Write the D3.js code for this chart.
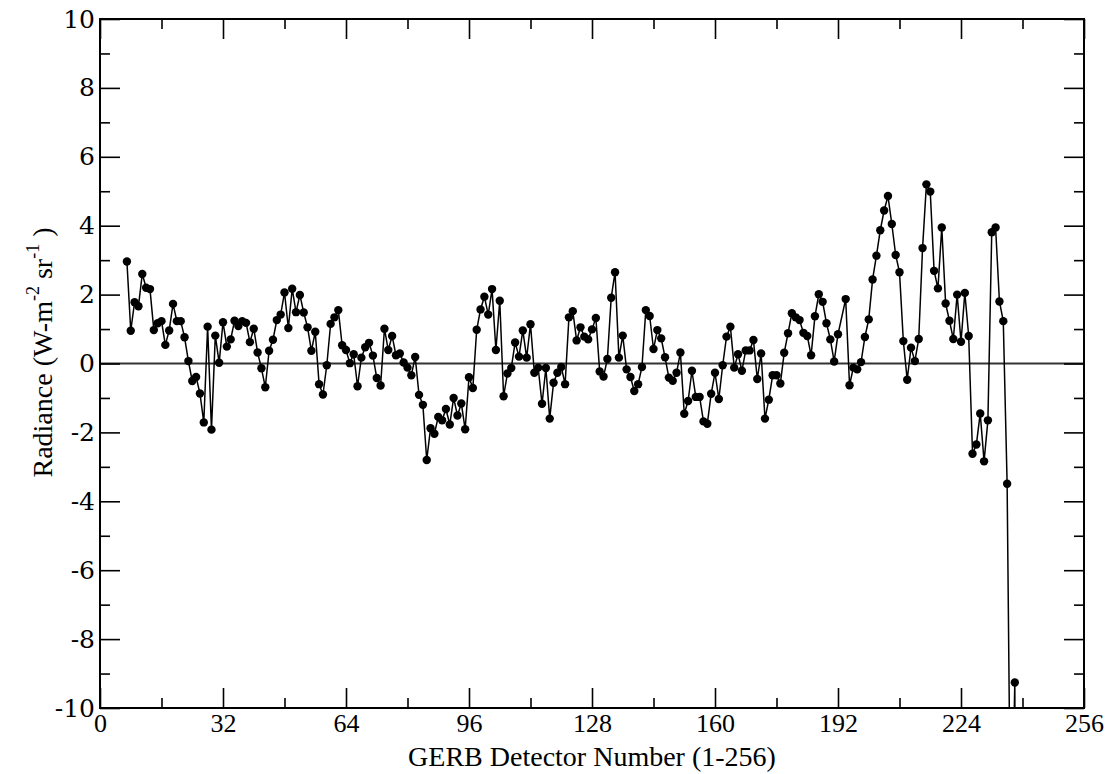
<!DOCTYPE html>
<html lang="en">
<head>
<meta charset="UTF-8">
<title>GERB detector radiance</title>
<script src="https://cdn.jsdelivr.net/npm/d3@7/dist/d3.min.js"></script>
<style>
  body { margin: 0; background: #fff; }
</style>
</head>
<body>
<script>
// detector 193 has no value, the line just jumps over it
var detectors = d3.range(7, 240).filter(d => d !== 193)
var radiance = [
  2.96, 0.95, 1.78, 1.66, 2.60, 2.20, 2.16, 0.97, 1.17, 1.23,
  0.54, 0.96, 1.73, 1.23, 1.23, 0.76, 0.07, -0.51, -0.39, -0.87,
  -1.71, 1.07, -1.92, 0.81, 0.02, 1.20, 0.49, 0.70, 1.24, 1.09,
  1.23, 1.18, 0.62, 1.01, 0.32, -0.14, -0.69, 0.37, 0.69, 1.26,
  1.42, 2.06, 1.03, 2.17, 1.49, 1.99, 1.48, 1.05, 0.37, 0.92,
  -0.60, -0.90, -0.05, 1.15, 1.34, 1.55, 0.53, 0.39, 0.01, 0.27,
  -0.66, 0.17, 0.47, 0.60, 0.23, -0.42, -0.64, 1.01, 0.39, 0.80,
  0.24, 0.29, 0.03, -0.12, -0.34, 0.19, -0.91, -1.20, -2.80, -1.88,
  -2.04, -1.55, -1.65, -1.32, -1.77, -1.00, -1.51, -1.16, -1.91, -0.40,
  -0.71, 0.98, 1.57, 1.94, 1.42, 2.16, 0.39, 1.82, -0.95, -0.29,
  -0.13, 0.61, 0.20, 0.96, 0.17, 1.14, -0.27, -0.12, -1.17, -0.13,
  -1.60, -0.56, -0.27, -0.10, -0.60, 1.34, 1.52, 0.67, 1.05, 0.78,
  0.70, 0.99, 1.32, -0.23, -0.38, 0.13, 1.91, 2.65, 0.17, 0.81,
  -0.17, -0.39, -0.80, -0.60, -0.10, 1.55, 1.38, 0.42, 0.97, 0.73,
  0.18, -0.41, -0.50, -0.27, 0.32, -1.46, -1.09, -0.21, -0.97, -0.97,
  -1.68, -1.75, -0.88, -0.27, -1.03, -0.05, 0.78, 1.07, -0.12, 0.27,
  -0.21, 0.38, 0.38, 0.68, -0.45, 0.29, -1.60, -1.05, -0.34, -0.34,
  -0.58, 0.31, 0.88, 1.46, 1.34, 1.26, 0.89, 0.80, 0.24, 1.37,
  2.01, 1.79, 1.17, 0.70, 0.06, 0.85,
  1.87, -0.63, -0.12, -0.17, 0.04, 0.77, 1.28, 2.44, 3.13, 3.87,
  4.44, 4.86, 4.05, 3.15, 2.65, 0.65, -0.47, 0.46, 0.07, 0.71,
  3.35, 5.20, 4.99, 2.69, 2.18, 3.95, 1.74, 1.24, 0.71, 2.00,
  0.63, 2.05, 0.80, -2.62, -2.35, -1.45, -2.84, -1.65, 3.81, 3.95,
  1.80, 1.23, -3.49, -15.0, -9.26, -40.0
]
var xMajorTicks = [0, 32, 64, 96, 128, 160, 192, 224, 256]
var xMinorTicks = [16, 48, 80, 112, 144, 176, 208, 240]
var yMajorTicks = [-10, -8, -6, -4, -2, 0, 2, 4, 6, 8, 10]
var yMinorTicks = [-9, -7, -5, -3, -1, 1, 3, 5, 7, 9]
var xTitle = 'GERB Detector Number (1-256)'

var width = 1113
var height = 774
// plot box edges (plain "top" would clash with window.top)
var plotL = 100, plotR = 1084, plotT = 19, plotB = 708

var data = detectors.map((d, i) => ({det: d, val: radiance[i]}))

var svg = d3.select('body').append('svg')
  .attr('width', width)
  .attr('height', height)

var x = d3.scaleLinear().domain([0, 256]).range([plotL, plotR])
var y = d3.scaleLinear().domain([-10, 10]).range([plotB, plotT])

svg.append('clipPath').attr('id', 'plotclip')
  .append('rect')
  .attr('x', plotL).attr('y', plotT)
  .attr('width', plotR - plotL).attr('height', plotB - plotT)

// zero line
svg.append('line')
  .attr('x1', plotL).attr('x2', plotR)
  .attr('y1', y(0)).attr('y2', y(0))
  .attr('stroke', '#333')
  .attr('stroke-width', 2)

var plot = svg.append('g').attr('clip-path', 'url(#plotclip)')

var lineF = d3.line()
  .x(d => x(d.det))
  .y(d => y(d.val))

plot.append('path')
  .datum(data)
  .attr('d', lineF)
  .attr('fill', 'none')
  .attr('stroke', 'black')
  .attr('stroke-width', 1.5)

plot.append('g')
  .selectAll('circle')
  .data(data)
  .enter().append('circle')
  .attr('cx', d => x(d.det))
  .attr('cy', d => y(d.val))
  .attr('r', 4.2)
  .attr('fill', 'black')

// ticks pointing inwards on all four sides, majors twice as long
function styleAxis(g) {
  g.select('.domain').remove()
  g.selectAll('.tick line').attr('stroke', 'black').attr('stroke-width', 1.6)
}

svg.append('g')
  .attr('transform', `translate(0,${plotB})`)
  .call(d3.axisBottom(x).tickValues(xMajorTicks).tickSize(-20).tickPadding(6).tickFormat(d => String(d)))
  .call(styleAxis)
  .selectAll('text')
  .attr('font-family', '"Liberation Serif", serif')
  .attr('font-size', 26)
  .attr('fill', 'black')

svg.append('g')
  .attr('transform', `translate(0,${plotB})`)
  .call(d3.axisBottom(x).tickValues(xMinorTicks).tickSize(-10).tickFormat(''))
  .call(styleAxis)

svg.append('g')
  .attr('transform', `translate(0,${plotT})`)
  .call(d3.axisTop(x).tickValues(xMajorTicks).tickSize(-20).tickFormat(''))
  .call(styleAxis)

svg.append('g')
  .attr('transform', `translate(0,${plotT})`)
  .call(d3.axisTop(x).tickValues(xMinorTicks).tickSize(-10).tickFormat(''))
  .call(styleAxis)

svg.append('g')
  .attr('transform', `translate(${plotL},0)`)
  .call(d3.axisLeft(y).tickValues(yMajorTicks).tickSize(-20).tickPadding(5).tickFormat(d => String(d)))
  .call(styleAxis)
  .selectAll('text')
  .attr('font-family', '"DejaVu Serif", serif')
  .attr('font-size', 25)
  .attr('fill', 'black')

svg.append('g')
  .attr('transform', `translate(${plotL},0)`)
  .call(d3.axisLeft(y).tickValues(yMinorTicks).tickSize(-10).tickFormat(''))
  .call(styleAxis)

svg.append('g')
  .attr('transform', `translate(${plotR},0)`)
  .call(d3.axisRight(y).tickValues(yMajorTicks).tickSize(-20).tickFormat(''))
  .call(styleAxis)

svg.append('g')
  .attr('transform', `translate(${plotR},0)`)
  .call(d3.axisRight(y).tickValues(yMinorTicks).tickSize(-10).tickFormat(''))
  .call(styleAxis)

// frame
svg.append('rect')
  .attr('x', plotL).attr('y', plotT)
  .attr('width', plotR - plotL).attr('height', plotB - plotT)
  .attr('fill', 'none')
  .attr('stroke', 'black')
  .attr('stroke-width', 2)

svg.append('text')
  .attr('x', (plotL + plotR) / 2)
  .attr('y', 766)
  .attr('text-anchor', 'middle')
  .attr('font-family', '"Liberation Serif", serif')
  .attr('font-size', 28)
  .text(xTitle)

var yTitle = svg.append('text')
  .attr('transform', `translate(52,${(plotT + plotB) / 2 - 11}) rotate(-90)`)
  .attr('text-anchor', 'middle')
  .attr('font-family', '"Liberation Serif", serif')
  .attr('font-size', 28)
yTitle.append('tspan').text('Radiance (W-m')
yTitle.append('tspan').attr('font-size', 18).attr('dy', -13).text('-2')
yTitle.append('tspan').attr('dy', 13).text(' sr')
yTitle.append('tspan').attr('font-size', 18).attr('dy', -13).text('-1')
yTitle.append('tspan').attr('dy', 13).text(' )')
</script>
</body>
</html>
